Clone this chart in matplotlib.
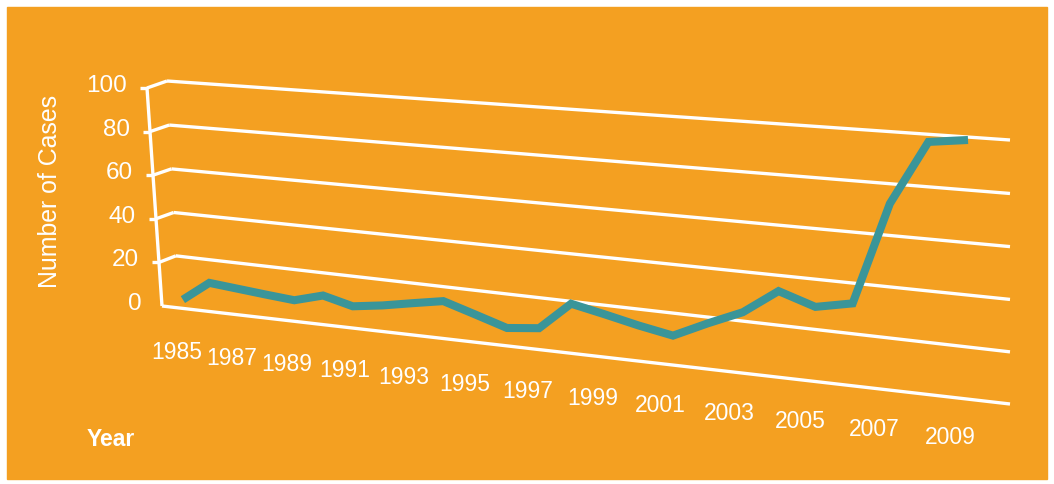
import numpy as np
import matplotlib.pyplot as plt
import matplotlib.transforms as mtransforms
from matplotlib.patches import Rectangle

plt.rcParams['font.family'] = ['Liberation Sans', 'DejaVu Sans']

# data
years = list(range(1985, 2010))
cases = [0, 9.3, 8.2, 7.1, 6.1, 9.8, 6.6, 8.6, 11.2, 13.7, 9.6, 5.4, 7.0,
         19.0, 16.2, 13.2, 10.7, 17.4, 23.6, 33.7, 29.0, 32.0, 72.3, 97.1, 98.9]
yticks = [0, 20, 40, 60, 80, 100]
xtick_years = list(range(1985, 2010, 2))

ORANGE = '#F4A021'
TEAL = '#3A9599'
W, Hpx = 1054, 484


def homography(src, dst):
    A, b = [], []
    for (x, y), (u, v) in zip(src, dst):
        A.append([x, y, 1, 0, 0, 0, -u * x, -u * y]); b.append(u)
        A.append([0, 0, 0, x, y, 1, -v * x, -v * y]); b.append(v)
    h = np.linalg.solve(np.array(A, float), np.array(b, float))
    return np.append(h, 1).reshape(3, 3)


class WallTransform(mtransforms.Transform):
    """perspective 'back wall': (year, value) -> pixel"""
    input_dims = output_dims = 2

    def __init__(self, H, y0, y1):
        super().__init__()
        self.H, self.y0, self.y1 = H, y0, y1

    def transform_non_affine(self, values):
        values = np.asarray(values, float)
        s = (values[:, 0] - self.y0) / (self.y1 - self.y0)
        p = np.column_stack([s, values[:, 1], np.ones(len(s))]) @ self.H.T
        return p[:, :2] / p[:, 2:]


fig = plt.figure(figsize=(W / 100, Hpx / 100), dpi=100)
ax = fig.add_axes([0, 0, 1, 1])
ax.set_xlim(0, W)
ax.set_ylim(Hpx, 0)
ax.axis('off')
ax.add_patch(Rectangle((7, 7), 1040, 472, color=ORANGE, zorder=0))

# wall corners in pixels: (left,0) (right,0) (left,100) (right,100)
Hm = homography([(0, 0), (1, 0), (0, 100), (1, 100)],
                [(178, 299), (1010, 404), (167, 81), (1010, 140)])
YL, YR = 1984.82, 2010.04
wall_px = WallTransform(Hm, YL, YR)
wall = wall_px + ax.transData

# front axis
a_top = np.array([147, 88.0])
a_bot = np.array([162, 306.0])
def front(v):
    return a_bot + (a_top - a_bot) * v / 100.0

wl = dict(color='white', lw=2.4, solid_capstyle='butt', solid_joinstyle='miter', zorder=2)
ax.plot([a_top[0], a_bot[0]], [a_top[1], a_bot[1]], **wl)
for v in yticks:
    fx, fy = front(v)
    ax.text(fx - 20, fy - 2, str(v), color='white', fontsize=17.5, ha='right', va='center')
    if v == 0:
        # floor edge runs straight from the corner
        right = wall_px.transform([(YR, 0)])[0]
        ax.plot([fx, right[0]], [fy, right[1]], **wl)
        continue
    ax.plot([fx - 7, fx], [fy, fy], **wl)
    corner = wall_px.transform([(YL, v)])[0]
    ax.plot([fx, corner[0]], [fy, corner[1]], **wl)
    ax.plot([YL, YR], [v, v], transform=wall, **wl)

ax.plot(years, cases, color=TEAL, lw=5.8, solid_joinstyle='miter',
        solid_capstyle='butt', transform=wall, zorder=3)

for y in xtick_years:
    f = (y - 1985) / 24
    ax.text(y - 0.32 - 0.16 * f, -25 + 8.8 * f, str(y), transform=wall,
            color='white', fontsize=16.5, ha='center', va='center')

ax.text(50, 191, 'Number of Cases', color='white', fontsize=17.9,
        rotation=90, ha='center', va='center')
ax.text(87, 440, 'Year', color='white', fontsize=16.5, fontweight='bold',
        ha='left', va='center')

fig.savefig('out.png', dpi=100)
